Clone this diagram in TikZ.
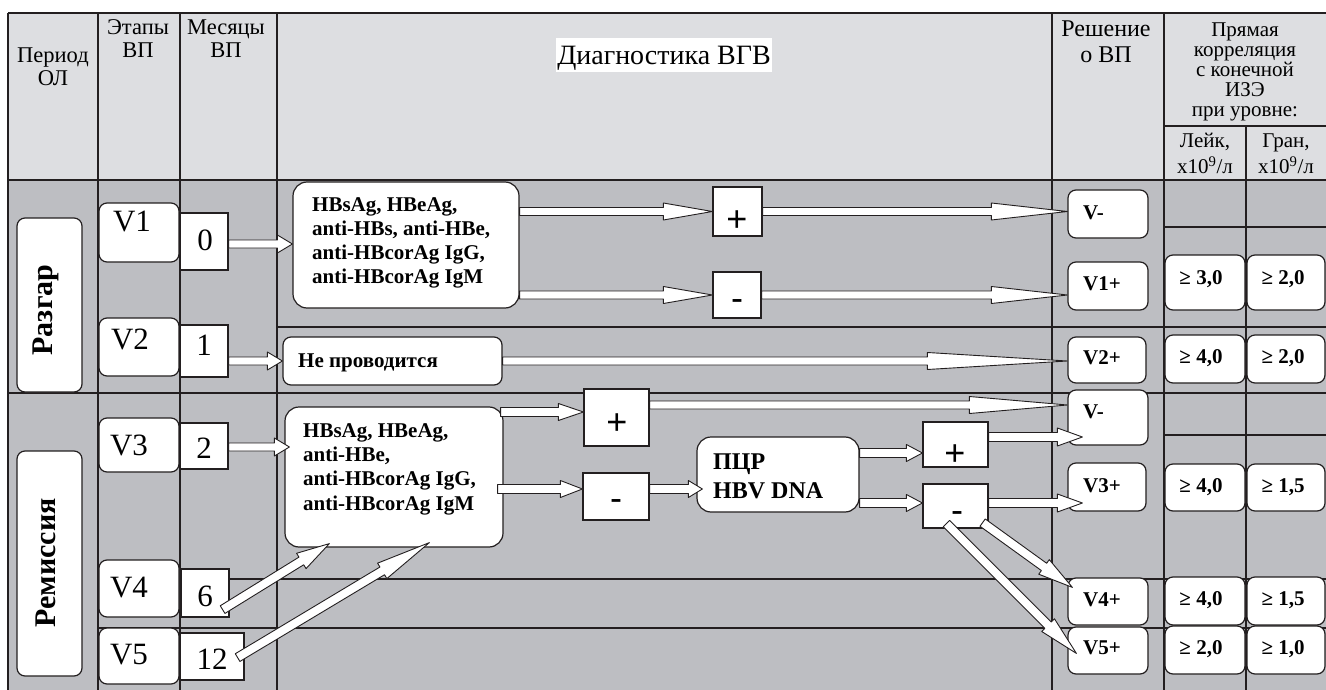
\documentclass[tikz,border=0pt]{standalone}
\usepackage{fontspec}
\setmainfont{Liberation Serif}
\newfontfamily\arialf{Liberation Sans}
\usetikzlibrary{calc}
\definecolor{hdr}{RGB}{221,222,225}
\definecolor{bodyc}{RGB}{189,190,194}
\definecolor{lc}{RGB}{35,31,32}
\tikzset{
 rbox/.style={draw=lc, fill=white, line width=1.2pt, rounded corners=8pt, inner sep=0pt},
 rboxl/.style={rbox, rounded corners=14pt},
 sbox/.style={draw=lc, fill=white, line width=1.2pt, inner sep=0pt},
 arr/.style={draw=lc, fill=white, line width=0.9pt, line join=round},
 tline/.style={draw=lc, line width=1.1pt},
 hd/.style={font=\fontsize{22.5}{23.5}\selectfont, align=center, anchor=base, inner sep=0pt},
 bt/.style={font=\bfseries\fontsize{21}{23.7}\selectfont, inner sep=0pt},
 bigt/.style={font=\fontsize{31}{31}\selectfont, inner sep=0pt},
 sg/.style={font=\arialf\fontsize{36}{36}\selectfont, inner sep=0pt, anchor=base},
}
% box: name, style, x1, y1, x2, y2
\newcommand{\bx}[6]{\node[#2, minimum width={(#5-#3)*1pt}, minimum height={(#6-#4)*1pt}] (#1) at ({(#3+#5)/2},{(#4+#6)/2}) {};}
% block arrow: start, end, head length, shaft half width, head half width
\newcommand{\barr}[5]{%
 \coordinate (bA) at #1; \coordinate (bB) at #2;
 \coordinate (bC) at ($(bB)!#3!(bA)$);
 \draw[arr] ($(bA)!#4!90:(bB)$) -- ($(bC)!#4!-90:(bA)$) -- ($(bC)!#5!-90:(bA)$) -- (bB)
   -- ($(bC)!#5!90:(bA)$) -- ($(bC)!#4!90:(bA)$) -- ($(bA)!#4!-90:(bB)$) -- cycle;
}
\begin{document}
\begin{tikzpicture}[x=1pt, y=-1pt]
\useasboundingbox (0,0) rectangle (1326,690);
% backgrounds
\fill[hdr] (8,13) rectangle (1326,180);
\fill[bodyc] (8,180) rectangle (1326,690);
% table lines
\draw[tline] (8,13) -- (1326,13);
\draw[tline] (8,180) -- (1326,180);
\draw[tline] (8,393) -- (1326,393);
\draw[tline] (277,327) -- (1326,327);
\draw[tline] (180,579) -- (1326,579);
\draw[tline] (98,628) -- (1326,628);
\draw[tline] (1164,126) -- (1326,126);
\draw[tline] (1164,227) -- (1326,227);
\draw[tline] (1164,435) -- (1326,435);
\foreach \x in {8,98,180,277,1052,1164} \draw[tline] (\x,13) -- (\x,690);
\draw[tline] (1246,126) -- (1246,690);
% header texts (base = last line)
\node[hd] (hPer) at (53,86) {Период\\ОЛ};
\node[hd] (hEt) at (138,58) {Этапы\\ВП};
\node[hd] (hMes) at (226,58) {Месяцы\\ВП};
\node[font=\fontsize{28}{28}\selectfont, anchor=base, fill=white, inner xsep=1pt, inner ysep=0pt, text height=27pt, text depth=7pt] (hDiag) at (664,65) {Диагностика ВГВ};
\node[hd, font=\fontsize{24}{26}\selectfont] (hRes) at (1106,63) {Решение\\о ВП};
\node[hd, font=\fontsize{21}{20}\selectfont] (hCor) at (1245,117) {Прямая\\корреляция\\с конечной\\ИЗЭ\\при уровне:};
\node[hd, font=\fontsize{21}{26}\selectfont] (hL) at (1205,174) {Лейк,\\х10\textsuperscript{9}/л};
\node[hd, font=\fontsize{21}{26}\selectfont] (hG) at (1286,174) {Гран,\\х10\textsuperscript{9}/л};
% period boxes
\bx{pRaz}{rbox}{17}{218}{82}{392}
\bx{pRem}{rbox}{17}{451}{82}{676}
\node[font=\bfseries\fontsize{30}{30}\selectfont, rotate=90, inner sep=0pt] (tRaz) at (46,310) {Разгар};
\node[font=\bfseries\fontsize{30}{30}\selectfont, rotate=90, inner sep=0pt] (tRem) at (46,563) {Ремиссия};
% stage boxes
\bx{V1}{rbox}{99}{203}{179}{262}
\bx{V2}{rbox}{99}{318}{179}{376}
\bx{V3}{rbox}{99}{418}{179}{472}
\bx{V4}{rbox}{99}{560}{179}{617}
\bx{V5}{rbox}{99}{628}{179}{684}
\node[bigt] at (132,222) {V1};
\node[bigt] at (130,339) {V2};
\node[bigt] at (129,445) {V3};
\node[bigt] at (129,588) {V4};
\node[bigt] at (129,655) {V5};
% month boxes
\bx{n0}{sbox}{180}{213}{228}{270}
\bx{n1}{sbox}{180}{325}{228}{377}
\bx{n2}{sbox}{180}{423}{228}{469}
\bx{n6}{sbox}{181}{569}{229}{617}
\bx{n12}{sbox}{180}{633}{244}{680}
\node[bigt] at (205,240) {0};
\node[bigt] at (204,345) {1};
\node[bigt] at (204,448) {2};
\node[bigt] at (205,596) {6};
\node[bigt] at (212,659) {12};
% diagnostic boxes
\bx{d1}{rboxl}{293}{182}{519}{308}
\bx{np}{rbox}{283}{337}{502}{385}
\bx{d2}{rboxl}{285}{407}{503}{547}
\bx{pcr}{rboxl}{697}{437}{859}{512}
\bx{pA}{sbox}{713}{187}{762}{236}
\bx{mA}{sbox}{713}{272}{761}{318}
\bx{pB}{sbox}{584}{389}{649}{446}
\bx{mB}{sbox}{583}{473}{649}{520}
\bx{pC}{sbox}{923}{422}{988}{467}
\bx{mC}{sbox}{923}{484}{988}{528}
% decision boxes
\bx{Vm1}{rbox}{1068}{190}{1148}{238}
\bx{V1p}{rbox}{1068}{262}{1148}{310}
\bx{V2p}{rbox}{1068}{337}{1146}{383}
\bx{Vm2}{rbox}{1068}{390}{1148}{445}
\bx{V3p}{rbox}{1068}{463}{1146}{511}
\bx{V4p}{rbox}{1068}{578}{1148}{625}
\bx{V5p}{rbox}{1068}{627}{1148}{674}
% correlation boxes
\bx{la}{rbox}{1165}{255}{1245}{310}
\bx{ga}{rbox}{1247}{255}{1325}{310}
\bx{lb}{rbox}{1165}{335}{1245}{383}
\bx{gb}{rbox}{1247}{335}{1325}{383}
\bx{lc3}{rbox}{1165}{464}{1245}{511}
\bx{gc}{rbox}{1247}{464}{1325}{511}
\bx{ld}{rbox}{1165}{577}{1245}{625}
\bx{gd}{rbox}{1247}{577}{1325}{625}
\bx{le}{rbox}{1165}{626}{1245}{674}
\bx{ge}{rbox}{1247}{626}{1325}{674}
% arrows
\barr{(n0.east |- 0,244)}{(d1.west |- 0,244)}{15pt}{4pt}{9pt}
\barr{(n1.east |- 0,361)}{(np.west |- 0,361)}{15pt}{4pt}{9pt}
\barr{(d1.east |- pA.west)}{(pA.west)}{49pt}{4pt}{8.5pt}
\barr{(pA.east)}{(Vm1.west |- pA.east)}{76pt}{4pt}{8.5pt}
\barr{(d1.east |- mA.west)}{(mA.west)}{49pt}{4pt}{8.5pt}
\barr{(mA.east)}{(V1p.west |- mA.east)}{76pt}{4pt}{8.5pt}
\barr{(np.east)}{(V2p.west |- np.east)}{140pt}{4pt}{8.5pt}
\barr{(n2.east |- 0,447)}{($(d2.west |- 0,447)+(5,0)$)}{15pt}{4pt}{9pt}
\barr{($(d2.east |- 0,412)+(-3,0)$)}{(pB.west |- 0,412)}{25pt}{4.5pt}{8.5pt}
\barr{(pB.east |- 0,405)}{(Vm2.west |- 0,405)}{98pt}{4pt}{8.5pt}
\barr{($(d2.east |- 0,489)+(-6,0)$)}{(mB.west |- 0,489)}{22pt}{4.5pt}{8.5pt}
\barr{(mB.east |- 0,489)}{($(pcr.west |- 0,489)+(6,0)$)}{14pt}{4.5pt}{8.5pt}
\barr{(pcr.east |- 0,453)}{(pC.west |- 0,453)}{16pt}{4.5pt}{8.5pt}
\barr{(pC.east |- 0,437)}{($(Vm2.west |- 0,437)+(15,0)$)}{25pt}{4.5pt}{9pt}
\barr{(pcr.east |- 0,503)}{(mC.west |- 0,503)}{16pt}{4.5pt}{8.5pt}
\barr{(mC.east |- 0,503)}{($(V3p.west |- 0,503)+(15,0)$)}{25pt}{4.5pt}{9pt}
\barr{($(mC.south east)+(-6,-6)$)}{($(V4p.north west)+(5,10)$)}{35pt}{4.5pt}{9pt}
\barr{($(mC.south west)+(24,-5)$)}{($(V5p.north west)+(9,27)$)}{40pt}{4.5pt}{9pt}
\barr{($(n6.south east)+(-7,-8)$)}{($(d2.south west)+(45,-4)$)}{33pt}{4.5pt}{9pt}
\barr{($(n12.south east)+(-7,-23)$)}{($(d2.south west)+(145,-5)$)}{55pt}{4.5pt}{9pt}
% diagnostic texts (base = last line)
\node[bt, anchor=base west, align=left] (t1) at (312,283) {HBsAg, HBeAg,\\anti-HBs, anti-HBe,\\anti-HBcorAg IgG,\\anti-HBcorAg IgM};
\node[bt, anchor=base west] (t2) at (298,367) {Не проводится};
\node[bt, anchor=base west, align=left, font=\bfseries\fontsize{21}{24.3}\selectfont] (t3) at (303,510) {HBsAg, HBeAg,\\anti-HBe,\\anti-HBcorAg IgG,\\anti-HBcorAg IgM};
\node[bt, anchor=base west, align=left, font=\bfseries\fontsize{24}{29}\selectfont] (t4) at (713,498) {ПЦР\\HBV DNA};
% signs
\node[sg] at (737,231) {+};
\node[sg] at (737,310) {-};
\node[sg] at (617,434) {+};
\node[sg] at (616,510) {-};
\node[sg] at (955,465) {+};
\node[sg] at (957,522) {-};
% decision texts
\node[bt, anchor=west] at (1083,213) {V-};
\node[bt, anchor=west] at (1083,284) {V1+};
\node[bt, anchor=west] at (1083,358) {V2+};
\node[bt, anchor=west] at (1083,412) {V-};
\node[bt, anchor=west] at (1083,486) {V3+};
\node[bt, anchor=west] at (1083,600) {V4+};
\node[bt, anchor=west] at (1083,648) {V5+};
% correlation texts
\node[bt] at (1201,279) {≥ 3,0};
\node[bt] at (1283,279) {≥ 2,0};
\node[bt] at (1201,358) {≥ 4,0};
\node[bt] at (1283,358) {≥ 2,0};
\node[bt] at (1201,487) {≥ 4,0};
\node[bt] at (1283,487) {≥ 1,5};
\node[bt] at (1201,600) {≥ 4,0};
\node[bt] at (1283,600) {≥ 1,5};
\node[bt] at (1201,649) {≥ 2,0};
\node[bt] at (1283,649) {≥ 1,0};
\end{tikzpicture}
\end{document}
